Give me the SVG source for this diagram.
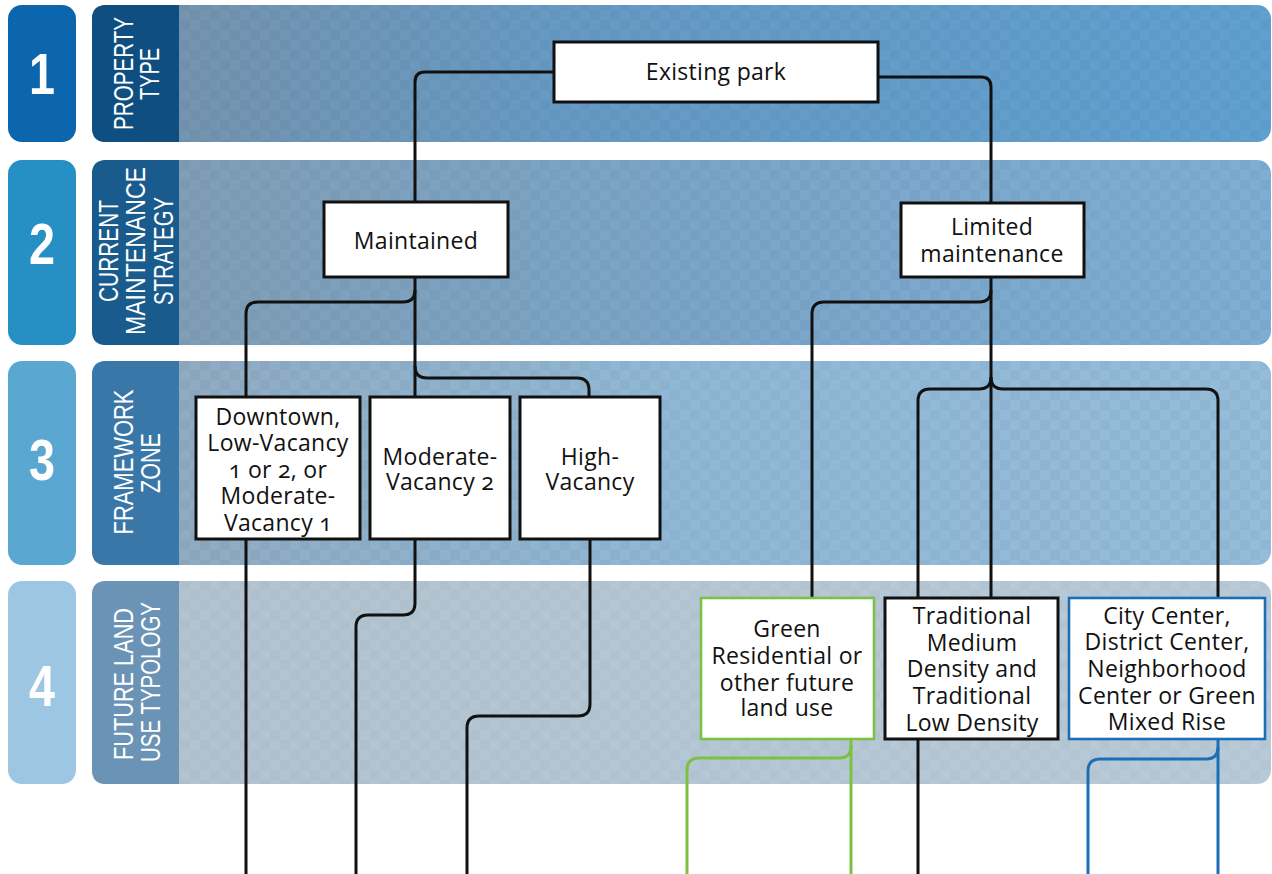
<svg xmlns="http://www.w3.org/2000/svg" width="1272" height="874" viewBox="0 0 1272 874">
<style>
.num{font-family:"Liberation Sans",Arial,sans-serif;font-weight:bold;font-size:58px;fill:#fff;text-anchor:middle}
.lab{font-family:"Liberation Sans",Arial,sans-serif;font-size:27px;fill:#fff;text-anchor:middle}
.box{fill:#fff;stroke:#111;stroke-width:3}
.boxg{fill:#fff;stroke:#7cc142;stroke-width:2.6}
.boxb{fill:#fff;stroke:#1b6fb6;stroke-width:2.6}
.t{font-family:"Open Sans","Noto Sans",sans-serif;font-size:23px;letter-spacing:0.3px;fill:#111;text-anchor:middle;font-variant-numeric:oldstyle-nums}
.c{fill:none;stroke:#111;stroke-width:3}
.cg{fill:none;stroke:#7cc142;stroke-width:3}
.cb{fill:none;stroke:#1b6fb6;stroke-width:3}
</style>
<defs>
<pattern id="chk" patternUnits="userSpaceOnUse" width="20" height="20">
<rect width="10" height="10" fill="#304050" fill-opacity="0.05"/>
<rect x="10" y="10" width="10" height="10" fill="#304050" fill-opacity="0.05"/>
</pattern>
<linearGradient id="g1" x1="0" x2="1" y1="0" y2="0">
<stop offset="0" stop-color="#7893aa"/><stop offset="0.4" stop-color="#669ac4"/><stop offset="1" stop-color="#60a0d0"/>
</linearGradient>
<linearGradient id="g2" x1="0" x2="1" y1="0" y2="0">
<stop offset="0" stop-color="#819db3"/><stop offset="0.5" stop-color="#7aa5c8"/><stop offset="1" stop-color="#7eaed3"/>
</linearGradient>
<linearGradient id="g3" x1="0" x2="1" y1="0" y2="0">
<stop offset="0" stop-color="#8fa9bf"/><stop offset="0.5" stop-color="#90b8d6"/><stop offset="1" stop-color="#95bdda"/>
</linearGradient>
<linearGradient id="g4" x1="0" x2="1" y1="0" y2="0">
<stop offset="0" stop-color="#b2c2ce"/><stop offset="0.5" stop-color="#b5c7d4"/><stop offset="1" stop-color="#b8cad7"/>
</linearGradient>
</defs>
<rect width="1272" height="874" fill="#fff"/>

<g id="row1">
<rect x="8" y="5" width="68" height="137" rx="14" fill="#0b66ad"/>
<text class="num" x="42" y="94" textLength="26" lengthAdjust="spacingAndGlyphs">1</text>
<rect x="92" y="5" width="1179" height="137" rx="14" fill="url(#g1)"/>
<rect x="92" y="5" width="1179" height="137" rx="14" fill="url(#chk)"/>
<path d="M106,5 H179 V142 H106 Q92,142 92,128 V19 Q92,5 106,5 Z" fill="#0e4e80"/>
<text class="lab" transform="translate(133,73.5) rotate(-90)" textLength="113" lengthAdjust="spacingAndGlyphs">PROPERTY</text>
<text class="lab" transform="translate(159,74) rotate(-90)" textLength="52" lengthAdjust="spacingAndGlyphs">TYPE</text>
</g>

<g id="row2">
<rect x="8" y="160" width="68" height="185" rx="14" fill="#2690c5"/>
<text class="num" x="42" y="264" textLength="26" lengthAdjust="spacingAndGlyphs">2</text>
<rect x="92" y="160" width="1179" height="185" rx="14" fill="url(#g2)"/>
<rect x="92" y="160" width="1179" height="185" rx="14" fill="url(#chk)"/>
<path d="M106,160 H179 V345 H106 Q92,345 92,331 V174 Q92,160 106,160 Z" fill="#1a5b8d"/>
<text class="lab" transform="translate(118,251) rotate(-90)" textLength="102" lengthAdjust="spacingAndGlyphs">CURRENT</text>
<text class="lab" transform="translate(145,251) rotate(-90)" textLength="168" lengthAdjust="spacingAndGlyphs">MAINTENANCE</text>
<text class="lab" transform="translate(173,251) rotate(-90)" textLength="108" lengthAdjust="spacingAndGlyphs">STRATEGY</text>
</g>

<g id="row3">
<rect x="8" y="361" width="68" height="204" rx="14" fill="#5aa7d2"/>
<text class="num" x="42" y="480" textLength="26" lengthAdjust="spacingAndGlyphs">3</text>
<rect x="92" y="361" width="1179" height="204" rx="14" fill="url(#g3)"/>
<rect x="92" y="361" width="1179" height="204" rx="14" fill="url(#chk)"/>
<path d="M106,361 H179 V565 H106 Q92,565 92,551 V375 Q92,361 106,361 Z" fill="#3a77a9"/>
<text class="lab" transform="translate(133,462) rotate(-90)" textLength="145" lengthAdjust="spacingAndGlyphs">FRAMEWORK</text>
<text class="lab" transform="translate(160,463) rotate(-90)" textLength="60" lengthAdjust="spacingAndGlyphs">ZONE</text>
</g>

<g id="row4">
<rect x="8" y="581" width="68" height="203" rx="14" fill="#9cc6e1"/>
<text class="num" x="42" y="706" textLength="26" lengthAdjust="spacingAndGlyphs">4</text>
<rect x="92" y="581" width="1179" height="203" rx="14" fill="url(#g4)"/>
<rect x="92" y="581" width="1179" height="203" rx="14" fill="url(#chk)" opacity="0.6"/>
<path d="M106,581 H179 V784 H106 Q92,784 92,770 V595 Q92,581 106,581 Z" fill="#6a93b5"/>
<text class="lab" transform="translate(133,684) rotate(-90)" textLength="152" lengthAdjust="spacingAndGlyphs">FUTURE LAND</text>
<text class="lab" transform="translate(160,682) rotate(-90)" textLength="160" lengthAdjust="spacingAndGlyphs">USE TYPOLOGY</text>
</g>

<g id="connectors">
<path class="c" d="M554,72 H425 Q415,72 415,82 V202"/>
<path class="c" d="M878,77 H981 Q991,77 991,87 V203"/>
<path class="c" d="M415,277 V397"/>
<path class="c" d="M415,290 Q415,302 403,302 H258 Q246,302 246,314 V397"/>
<path class="c" d="M415,366 Q415,378 427,378 H577 Q589,378 589,390 V397"/>
<path class="c" d="M991,277 V598"/>
<path class="c" d="M991,290 Q991,302 979,302 H824 Q812,302 812,314 V598"/>
<path class="c" d="M991,377 Q991,389 979,389 H930 Q918,389 918,401 V598"/>
<path class="c" d="M991,377 Q991,389 1003,389 H1206 Q1218,389 1218,401 V598"/>
<path class="c" d="M246,539 V874"/>
<path class="c" d="M415,539 V603 Q415,615 403,615 H368 Q356,615 356,627 V874"/>
<path class="c" d="M590,539 V704 Q590,716 578,716 H479 Q467,716 467,728 V874"/>
<path class="c" d="M918,739 V874"/>
<path class="cg" d="M851,739 V874"/>
<path class="cg" d="M851,746 Q851,758 839,758 H699 Q687,758 687,770 V874"/>
<path class="cb" d="M1218,739 V874"/>
<path class="cb" d="M1218,747 Q1218,759 1206,759 H1100 Q1088,759 1088,771 V874"/>
</g>

<g id="existing-park">
<rect class="box" x="554" y="42" width="324" height="60"/>
<text class="t" x="716" y="80">Existing park</text>
</g>
<g id="maintained">
<rect class="box" x="324" y="202" width="184" height="75"/>
<text class="t" x="416" y="249">Maintained</text>
</g>
<g id="limited-maintenance">
<rect class="box" x="901" y="203" width="183" height="74"/>
<text class="t" x="992" y="235">Limited</text>
<text class="t" x="992" y="262">maintenance</text>
</g>
<g id="downtown">
<rect class="box" x="196" y="397" width="164" height="142"/>
<text class="t" x="278" y="425">Downtown,</text>
<text class="t" x="278" y="451">Low-Vacancy</text>
<text class="t" x="278" y="478">1 or 2, or</text>
<text class="t" x="278" y="504">Moderate-</text>
<text class="t" x="278" y="531">Vacancy 1</text>
</g>
<g id="moderate-vacancy-2">
<rect class="box" x="370" y="397" width="140" height="142"/>
<text class="t" x="440" y="465">Moderate-</text>
<text class="t" x="440" y="490">Vacancy 2</text>
</g>
<g id="high-vacancy">
<rect class="box" x="520" y="397" width="140" height="142"/>
<text class="t" x="590" y="465">High-</text>
<text class="t" x="590" y="490">Vacancy</text>
</g>
<g id="green-residential">
<rect class="boxg" x="701" y="598" width="173" height="141"/>
<text class="t" x="787" y="637">Green</text>
<text class="t" x="787" y="664">Residential or</text>
<text class="t" x="787" y="691">other future</text>
<text class="t" x="787" y="716">land use</text>
</g>
<g id="traditional">
<rect class="box" x="885" y="598" width="173" height="141"/>
<text class="t" x="972" y="624">Traditional</text>
<text class="t" x="972" y="651">Medium</text>
<text class="t" x="972" y="677">Density and</text>
<text class="t" x="972" y="704">Traditional</text>
<text class="t" x="972" y="731">Low Density</text>
</g>
<g id="city-center">
<rect class="boxb" x="1069" y="598" width="196" height="141"/>
<text class="t" x="1167" y="624">City Center,</text>
<text class="t" x="1167" y="650">District Center,</text>
<text class="t" x="1167" y="677">Neighborhood</text>
<text class="t" x="1167" y="704">Center or Green</text>
<text class="t" x="1167" y="730">Mixed Rise</text>
</g>
</svg>
